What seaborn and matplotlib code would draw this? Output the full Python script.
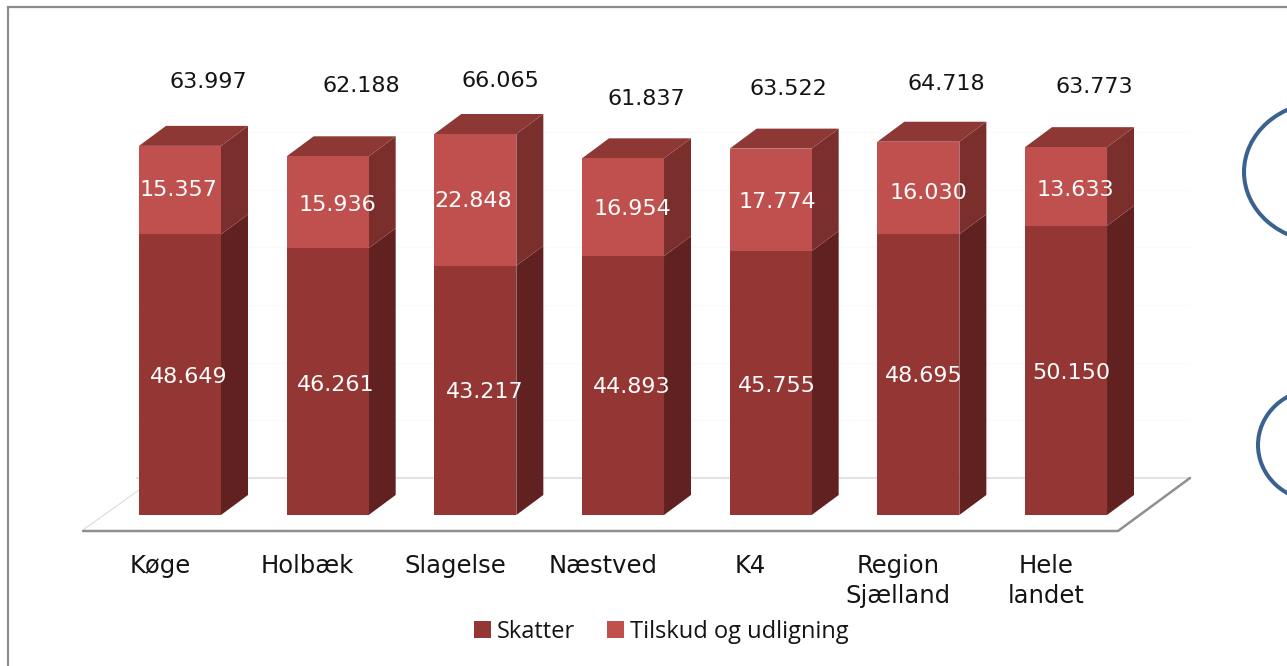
import matplotlib
matplotlib.use("Agg")
import matplotlib.pyplot as plt
import seaborn as sns
from matplotlib.patches import Ellipse, Polygon
from matplotlib.transforms import ScaledTranslation

# values (thousands, labels show them with a dot)
kommuner = ["Køge", "Holbæk", "Slagelse", "Næstved", "K4", "Region\nSjælland", "Hele\nlandet"]
skatter = [48.649, 46.261, 43.217, 44.893, 45.755, 48.695, 50.150]
tilskud = [15.357, 15.936, 22.848, 16.954, 17.774, 16.030, 13.633]
totaler = [63.997, 62.188, 66.065, 61.837, 63.522, 64.718, 63.773]
grid_values = [0, 10, 20, 30, 40, 50, 60, 70]

# the labels were moved by hand in the original, pixel centres of the text
total_pos = [(208, 82), (361, 86), (500, 81), (646, 99), (788, 89), (946, 84), (1094, 87)]
tilskud_pos = [(178, 190), (337, 205), (473, 201), (632, 209), (777, 202), (928, 193), (1075, 190)]
skatter_pos = [(189, 377), (336, 385), (485, 392), (632, 387), (777, 386), (924, 376), (1071, 373)]

DARK = "#943634"
LIGHT = "#C0504D"
TOP = "#8E3836"
SIDE_DARK = "#622121"
SIDE_LIGHT = "#7B2F2D"
BLUE = "#3A6290"

W, H = 1287, 666
PX_X = 147.67   # pixels per category
PX_Y = 5.767    # pixels per 1000
BASE = 515      # pixel row of value 0
AX_BOTTOM = 548
DEPTH_X = 27 / PX_X
DEPTH_Y = 20 / PX_Y
WALL = (BASE - 478) / PX_Y

sns.set_theme(style="white")
fig = plt.figure(figsize=(W / 100, H / 100), dpi=100, facecolor="white")

# background layer in plain pixel coordinates
bg = fig.add_axes([0, 0, 1, 1], zorder=0)
bg.set_xlim(0, W)
bg.set_ylim(H, 0)
bg.axis("off")
bg.plot([8, 8, W], [H, 7, 7], color="#8C8C8C", lw=1.6, solid_joinstyle="miter")
bg.plot([137, 1190], [478, 478], color="#E2E2E2", lw=1.5)
bg.plot([83, 139], [530, 490], color="#DCDCDC", lw=0.8)
bg.plot([83, 1118, 1190], [531, 531, 478], color="#8F8F8F", lw=1.8)
bg.add_patch(Ellipse((1324, 172), 160, 140, fill=False, edgecolor=BLUE, lw=2.9))
bg.add_patch(Ellipse((1318, 445), 120, 112, fill=False, edgecolor=BLUE, lw=2.9))

# chart layer
ax = fig.add_axes([0, (H - AX_BOTTOM) / H, 1, AX_BOTTOM / H], zorder=1)
ax.patch.set_alpha(0)
sns.barplot(x=kommuner, y=skatter, color=DARK, saturation=1, width=82 / PX_X, linewidth=0,
            label="Skatter", ax=ax, zorder=3)
sns.barplot(x=kommuner, y=tilskud, bottom=skatter, color=LIGHT, saturation=1, width=82 / PX_X, linewidth=0,
            label="Tilskud og udligning", ax=ax, zorder=3)
ax.set_xlim(-180 / PX_X, (W - 180) / PX_X)
ax.set_ylim(-(AX_BOTTOM - BASE) / PX_Y, BASE / PX_Y)
sns.despine(ax=ax, left=True, bottom=True)
ax.set_yticks([])
ax.set_ylabel("")

# faint wall gridlines behind the bars
ax.hlines([g + WALL for g in grid_values[1:-1]], (137 - 180) / PX_X, (1190 - 180) / PX_X,
          color="#FAFAFA", lw=1, zorder=1)

# 3d sides, built from the bars seaborn drew
for lower, upper in zip(ax.containers[0], ax.containers[1]):
    x1 = lower.get_x() + lower.get_width()
    x0 = lower.get_x()
    mid = lower.get_height()
    top = mid + upper.get_height()
    ax.add_patch(Polygon([(x1, 0), (x1 + DEPTH_X, DEPTH_Y), (x1 + DEPTH_X, mid + DEPTH_Y), (x1, mid)],
                         closed=True, facecolor=SIDE_DARK, edgecolor="none", zorder=2))
    ax.add_patch(Polygon([(x1, mid), (x1 + DEPTH_X, mid + DEPTH_Y), (x1 + DEPTH_X, top + DEPTH_Y), (x1, top)],
                         closed=True, facecolor=SIDE_LIGHT, edgecolor="none", zorder=2))
    ax.add_patch(Polygon([(x0, top), (x0 + DEPTH_X, top + DEPTH_Y), (x1 + DEPTH_X, top + DEPTH_Y), (x1, top)],
                         closed=True, facecolor=TOP, edgecolor="none", zorder=2))


def put_labels(values, positions, color):
    for v, (px, py) in zip(values, positions):
        ax.annotate(f"{v:.3f}", xy=(px, H - py), xycoords="figure pixels", ha="center", va="center",
                    fontsize=16, color=color, family="DejaVu Sans", zorder=5)


put_labels(totaler, total_pos, "#141414")
put_labels(tilskud, tilskud_pos, "white")
put_labels(skatter, skatter_pos, "white")

# category labels sit a bit left of the bars
ax.tick_params(axis="x", length=0, pad=4)
ax.set_xticks(range(len(kommuner)))
ax.set_xticklabels(kommuner, fontsize=17.5, color="#141414", family="DejaVu Sans", linespacing=1.33)
shift = ScaledTranslation(-20 / 100, 0, fig.dpi_scale_trans)
for lab in ax.get_xticklabels():
    lab.set_transform(lab.get_transform() + shift)

handles, labels = ax.get_legend_handles_labels()
ax.legend(handles, labels, loc="center", bbox_to_anchor=(661 / W, 1 - 632 / H),
          bbox_transform=fig.transFigure, ncol=2, frameon=False,
          prop={"family": "Open Sans", "size": 17}, labelcolor="#141414",
          handlelength=0.72, handleheight=0.72, handletextpad=0.25, columnspacing=1.35)

fig.savefig("out.png", dpi=100)
